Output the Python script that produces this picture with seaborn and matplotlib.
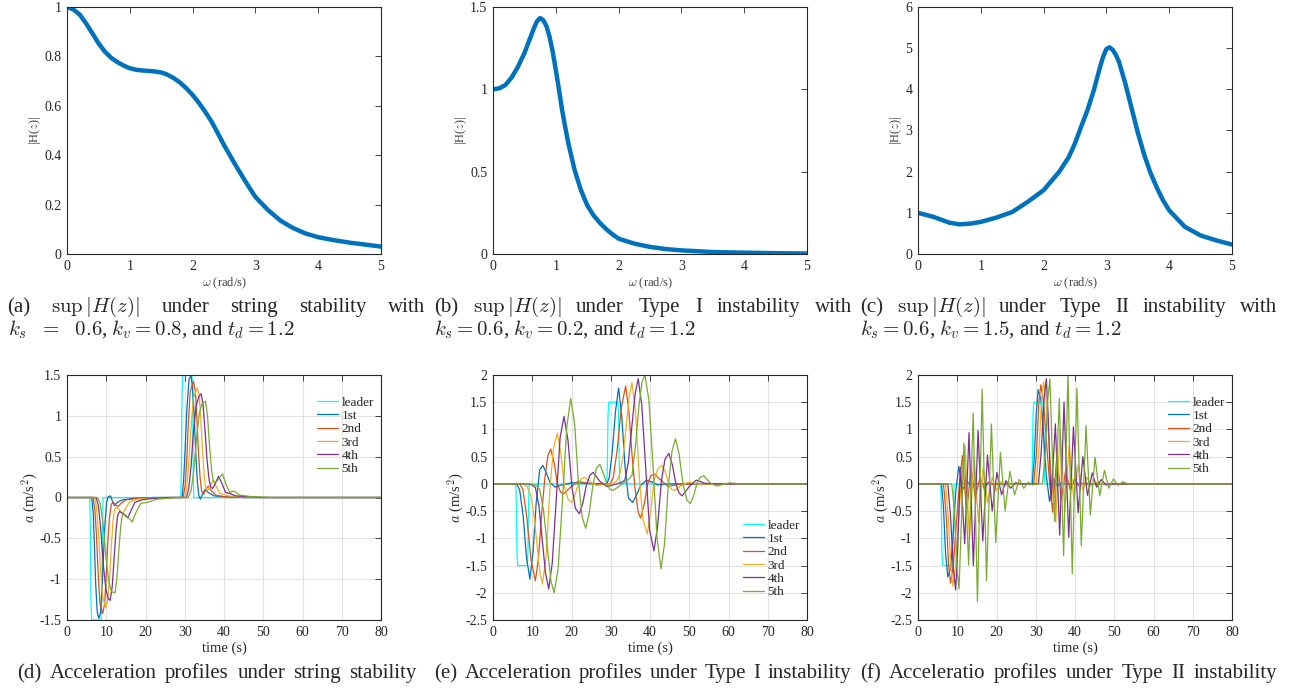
import matplotlib
matplotlib.use('Agg')
import matplotlib.pyplot as plt
from matplotlib.ticker import FuncFormatter
import seaborn as sns

# ---------------- data: |H(z)| curves ----------------
a_w = [0, 0.1, 0.2, 0.3, 0.4, 0.5, 0.6, 0.7, 0.8, 0.9, 1.0, 1.1, 1.2, 1.3, 1.4, 1.5, 1.6, 1.7, 1.8, 1.9, 2.0,
       2.1, 2.2, 2.3, 2.4, 2.5, 2.6, 2.7, 2.8, 2.9, 3.0, 3.2, 3.4, 3.6, 3.8, 4.0, 4.25, 4.5, 4.75, 5.0]
a_h = [1.0, 0.99, 0.97, 0.935, 0.895, 0.854, 0.82, 0.795, 0.777, 0.763, 0.752, 0.746, 0.743, 0.741, 0.739, 0.735,
       0.726, 0.712, 0.694, 0.671, 0.644, 0.612, 0.576, 0.537, 0.49, 0.441, 0.397, 0.353, 0.311, 0.27, 0.231, 0.178,
       0.135, 0.105, 0.083, 0.068, 0.056, 0.046, 0.038, 0.03]

b_w = [0, 0.1, 0.2, 0.3, 0.4, 0.5, 0.6, 0.65, 0.7, 0.75, 0.8, 0.85, 0.9, 0.95, 1.0, 1.05, 1.1, 1.15, 1.2, 1.3, 1.4,
       1.5, 1.6, 1.7, 1.8, 1.9, 2.0, 2.25, 2.5, 2.75, 3.0, 3.5, 4.0, 4.5, 5.0]
b_h = [1.0, 1.006, 1.027, 1.074, 1.139, 1.22, 1.32, 1.37, 1.413, 1.433, 1.42, 1.385, 1.32, 1.23, 1.118, 1.0, 0.875,
       0.77, 0.672, 0.509, 0.388, 0.296, 0.235, 0.19, 0.152, 0.12, 0.093, 0.063, 0.043, 0.03, 0.022, 0.012, 0.008,
       0.005, 0.003]

c_w = [0, 0.25, 0.5, 0.66, 0.85, 1.0, 1.25, 1.5, 1.75, 2.0, 2.25, 2.4, 2.5, 2.6, 2.7, 2.8, 2.9, 2.95, 3.0, 3.05, 3.1,
       3.15, 3.2, 3.3, 3.4, 3.5, 3.6, 3.7, 3.8, 3.9, 4.0, 4.25, 4.5, 4.75, 5.0]
c_h = [1.0, 0.9, 0.76, 0.72, 0.74, 0.78, 0.885, 1.02, 1.27, 1.55, 2.0, 2.35, 2.69, 3.1, 3.5, 3.98, 4.55, 4.8, 4.98,
       5.02, 4.96, 4.84, 4.67, 4.15, 3.55, 2.95, 2.42, 1.98, 1.62, 1.31, 1.06, 0.66, 0.45, 0.33, 0.23]

# ---------------- data: leader acceleration (same in d, e, f) ----------------
lead_t = [0, 5.8, 5.95, 6.1, 6.3, 8.7, 8.9, 9.05, 9.2, 29.0, 29.15, 29.3, 29.5, 31.8, 32.0, 32.15, 32.3, 80]
lead_a = [0, 0, -0.4, -1.25, -1.5, -1.5, -1.25, -0.4, 0, 0, 0.4, 1.25, 1.5, 1.5, 1.25, 0.4, 0, 0]

# ---------------- (d) string stable ----------------
d1_t = [0, 6.3, 6.7, 7.0, 7.3, 7.7, 8.1, 8.5, 8.9, 9.3, 9.7, 10.1, 10.5, 11.1, 11.6, 12.1, 12.8, 14.0, 17.0, 22.0,
        29.3, 29.7, 30.1, 30.5, 31.1, 31.6, 32.0, 32.4, 32.8, 33.2, 33.6, 34.0, 34.5, 35.2, 36.0, 37.5, 40.0, 45.0, 80]
d1_a = [0, 0, -0.2, -0.6, -1.05, -1.4, -1.48, -1.42, -1.15, -0.7, -0.3, -0.06, 0.01, 0.02, -0.05, -0.1, -0.06, -0.03, -0.01, 0,
        0, 0.2, 0.6, 1.05, 1.45, 1.49, 1.35, 1.0, 0.55, 0.2, 0.02, -0.02, 0.04, 0.1, 0.06, 0.02, 0.01, 0, 0]
d2_t = [0, 6.6, 7.1, 7.5, 7.9, 8.4, 9.1, 9.6, 10.0, 10.4, 10.8, 11.3, 11.8, 12.4, 13.0, 13.8, 15.0, 18.0, 24.0,
        29.6, 30.1, 30.5, 30.9, 31.4, 32.2, 32.7, 33.1, 33.5, 33.9, 34.3, 34.8, 35.4, 36.0, 36.8, 38.0, 40.0, 45.0, 80]
d2_a = [0, 0, -0.15, -0.45, -0.9, -1.3, -1.42, -1.3, -0.95, -0.55, -0.25, -0.08, -0.06, -0.09, -0.11, -0.07, -0.03, -0.01, 0,
        0, 0.15, 0.45, 0.9, 1.3, 1.42, 1.3, 0.95, 0.55, 0.25, 0.08, 0.04, 0.1, 0.14, 0.08, 0.03, 0.01, 0, 0]
d3_t = [0, 7.0, 7.5, 8.0, 8.5, 9.1, 9.9, 10.4, 10.9, 11.3, 11.7, 12.1, 12.6, 13.3, 14.2, 15.0, 16.0, 18.0, 21.0, 26.0,
        30.0, 30.5, 31.0, 31.6, 32.2, 33.2, 33.7, 34.1, 34.5, 34.9, 35.3, 35.7, 36.4, 37.2, 38.0, 39.0, 41.0, 44.0, 48.0, 80]
d3_a = [0, 0, -0.12, -0.4, -0.85, -1.22, -1.35, -1.25, -0.95, -0.6, -0.3, -0.15, -0.12, -0.15, -0.2, -0.13, -0.05, -0.02, -0.01, 0,
        0, 0.12, 0.4, 0.85, 1.22, 1.34, 1.25, 0.95, 0.6, 0.3, 0.13, 0.08, 0.13, 0.21, 0.14, 0.05, 0.02, 0.01, 0, 0]
d4_t = [0, 7.4, 8.0, 8.6, 9.2, 9.9, 10.5, 11.0, 11.5, 12.0, 12.5, 12.9, 13.4, 14.3, 15.5, 16.4, 17.3, 19.0, 22.0, 27.0,
        30.4, 31.0, 31.6, 32.2, 32.9, 33.6, 34.2, 34.7, 35.2, 35.7, 36.2, 36.6, 37.1, 37.8, 38.6, 39.5, 40.4, 41.4, 43.0, 46.0, 50.0, 80]
d4_a = [0, 0, -0.1, -0.38, -0.8, -1.12, -1.24, -1.26, -1.1, -0.75, -0.4, -0.22, -0.17, -0.2, -0.25, -0.15, -0.06, -0.03, -0.01, 0,
        0, 0.1, 0.38, 0.8, 1.12, 1.24, 1.27, 1.12, 0.8, 0.45, 0.22, 0.13, 0.11, 0.17, 0.26, 0.17, 0.06, 0.05, 0.02, 0.01, 0, 0]
d5_t = [0, 7.8, 8.5, 9.2, 9.9, 10.6, 11.3, 12.2, 12.7, 13.2, 13.7, 14.1, 14.6, 15.5, 16.6, 17.6, 18.8, 20.5, 23.0, 28.0,
        30.9, 31.6, 32.3, 33.0, 33.7, 34.4, 35.3, 35.8, 36.3, 36.8, 37.2, 37.7, 38.6, 39.6, 40.6, 41.5, 42.5, 44.0, 47.0, 52.0, 80]
d5_a = [0, 0, -0.08, -0.33, -0.72, -1.02, -1.15, -1.17, -1.0, -0.65, -0.35, -0.22, -0.2, -0.24, -0.3, -0.18, -0.07, -0.06, -0.02, 0,
        0, 0.08, 0.33, 0.72, 1.02, 1.15, 1.18, 1.0, 0.65, 0.35, 0.22, 0.18, 0.22, 0.29, 0.15, 0.06, 0.08, 0.03, 0.01, 0, 0]

# ---------------- (e) Type I instability ----------------
e1_t = [0, 6.0, 6.8, 7.7, 8.5, 9.4, 10.2, 11.0, 11.9, 12.7, 13.6, 14.5, 15.8, 17.5, 20.0, 24.0, 29.0, 29.6, 30.4, 31.2,
        32.0, 32.8, 33.6, 34.5, 35.6, 36.6, 37.6, 39.1, 40.6, 42.0, 45.0, 80]
e1_a = [0, 0, -0.11, -0.6, -1.33, -1.75, -1.25, -0.35, 0.26, 0.34, 0.2, 0.03, -0.06, -0.02, 0.02, 0.01, 0, 0.11, 0.6, 1.33,
        1.76, 1.25, 0.35, -0.26, -0.34, -0.2, -0.03, 0.07, 0.03, -0.02, 0, 0]
e2_t = [0, 6.8, 7.6, 8.6, 9.7, 10.8, 11.6, 12.4, 13.2, 14.0, 14.7, 15.6, 16.4, 17.2, 18.1, 19.5, 21.7, 24.0, 27.0, 29.8,
        30.6, 31.6, 32.7, 33.8, 34.6, 35.4, 36.2, 37.0, 37.6, 38.5, 39.4, 40.2, 41.2, 42.6, 44.6, 47.0, 50.0, 80]
e2_a = [0, 0, -0.1, -0.6, -1.4, -1.78, -1.35, -0.55, 0.1, 0.52, 0.64, 0.38, 0.0, -0.15, -0.18, -0.08, 0.05, 0.01, -0.01, 0,
        0.1, 0.6, 1.4, 1.8, 1.35, 0.55, -0.1, -0.52, -0.63, -0.38, 0.0, 0.15, 0.18, 0.08, -0.05, -0.01, 0, 0]
e3_t = [0, 7.5, 8.7, 9.6, 10.4, 11.2, 11.9, 12.6, 13.5, 14.5, 15.4, 16.4, 17.3, 18.2, 19.1, 20.0, 20.9, 21.8, 22.6, 23.4,
        24.9, 26.4, 28.0, 30.3, 31.5, 32.4, 33.2, 34.0, 34.7, 35.4, 36.3, 37.3, 38.2, 39.3, 40.1, 41.0, 42.0, 43.1, 44.0, 44.8,
        45.5, 46.3, 48.0, 49.7, 52.0, 80]
e3_a = [0, 0, -0.05, -0.2, -0.55, -1.1, -1.6, -1.84, -1.35, -0.1, 0.65, 0.93, 0.55, -0.05, -0.28, -0.34, -0.2, 0.02, 0.1, 0.12,
        0.03, -0.03, -0.01, 0, 0.05, 0.2, 0.55, 1.1, 1.6, 1.86, 1.35, 0.1, -0.65, -0.92, -0.55, 0.05, 0.28, 0.34, 0.2, -0.02,
        -0.1, -0.12, -0.03, 0.03, 0, 0]
e4_t = [0, 8.5, 10.0, 10.8, 11.7, 12.5, 13.4, 14.2, 15.1, 16.1, 17.1, 18.1, 19.1, 20.1, 21.0, 22.0, 22.9, 23.8, 24.7, 25.5,
        27.2, 29.0, 30.5, 32.0, 32.8, 33.6, 34.5, 35.3, 36.2, 37.0, 37.9, 38.9, 39.9, 41.0, 41.9, 42.9, 43.8, 44.8, 45.7, 46.6,
        47.4, 48.2, 50.0, 51.8, 54.0, 58.0, 80]
e4_a = [0, 0, -0.02, -0.07, -0.4, -1.0, -1.65, -1.93, -1.45, -0.3, 0.85, 1.24, 0.8, -0.05, -0.45, -0.55, -0.35, -0.02, 0.16, 0.21,
        0.05, -0.05, -0.02, 0.01, 0.03, 0.07, 0.4, 1.0, 1.65, 1.93, 1.45, 0.3, -0.85, -1.23, -0.8, 0.05, 0.45, 0.56, 0.35, 0.0,
        -0.17, -0.22, -0.05, 0.07, 0.01, 0, 0]
e5_t = [0, 9.5, 11.0, 11.9, 12.9, 13.9, 14.8, 15.6, 16.6, 17.7, 18.8, 19.8, 20.8, 21.7, 22.7, 23.6, 24.5, 25.4, 26.3, 27.2,
        28.1, 29.0, 29.8, 30.6, 32.0, 33.5, 34.5, 35.4, 36.3, 37.2, 38.0, 38.7, 39.7, 40.8, 41.8, 42.8, 43.7, 44.6, 45.6, 46.5,
        47.4, 48.4, 49.4, 50.3, 51.2, 52.0, 52.8, 53.7, 55.3, 57.0, 58.6, 60.3, 63.0, 80]
e5_a = [0, 0, -0.03, -0.1, -0.5, -1.2, -1.8, -2.0, -1.55, -0.3, 1.05, 1.57, 1.1, 0.1, -0.6, -0.82, -0.55, -0.05, 0.28, 0.36,
        0.2, 0.0, -0.1, -0.12, -0.05, 0.03, 0.08, 0.15, 0.7, 1.45, 1.88, 2.0, 1.55, 0.3, -1.0, -1.56, -1.1, -0.1, 0.6, 0.83,
        0.55, 0.0, -0.3, -0.36, -0.2, 0.02, 0.12, 0.15, 0.02, -0.04, -0.01, 0.02, 0, 0]

# ---------------- (f) Type II instability ----------------
f1_t = [0, 6.0, 6.5, 7.0, 7.6, 8.3, 9.0, 9.6, 10.4, 11.4, 12.4, 13.5, 15, 29.1, 29.6, 30.1, 30.6, 31.3, 32.0, 32.7,
        33.5, 34.5, 35.5, 36.5, 38, 80]
f1_a = [0, 0, -0.45, -1.25, -1.71, -1.55, -0.9, -0.15, 0.32, -0.1, 0.04, -0.01, 0, 0, 0.45, 1.25, 1.73, 1.55, 0.9, 0.15,
        -0.32, 0.1, -0.04, 0.01, 0, 0]
f2_t = [0, 6.5, 7.2, 7.8, 8.3, 9.0, 9.8, 10.5, 11.3, 12.4, 13.5, 14.6, 15.8, 16.9, 18.0, 19.2, 21.0, 29.5, 30.2, 30.8,
        31.3, 32.0, 32.8, 33.5, 34.3, 35.4, 36.5, 37.6, 38.8, 39.9, 41.0, 42.2, 44.0, 80]
f2_a = [0, 0, -0.6, -1.5, -1.82, -1.5, -0.7, -0.05, 0.52, -0.55, 0.3, -0.25, 0.12, -0.1, 0.04, -0.02, 0, 0, 0.6, 1.5,
        1.82, 1.5, 0.7, 0.05, -0.52, 0.55, -0.3, 0.25, -0.12, 0.1, -0.04, 0.02, 0, 0]
f3_t = [0, 7.0, 7.7, 8.4, 8.9, 9.6, 10.4, 11.2, 12.0, 13.1, 14.3, 15.4, 16.6, 17.7, 18.9, 20.0, 21.1, 22.3, 24.0, 30.1,
        30.8, 31.5, 32.0, 32.7, 33.5, 34.3, 35.1, 36.2, 37.4, 38.5, 39.7, 40.8, 42.0, 43.1, 44.2, 45.4, 47.0, 80]
f3_a = [0, 0, -0.6, -1.55, -1.88, -1.5, -0.6, 0.2, 0.7, -1.0, 0.5, -0.7, 0.3, -0.35, 0.12, -0.12, 0.04, -0.03, 0, 0,
        0.6, 1.55, 1.88, 1.5, 0.6, -0.2, -0.7, 1.0, -0.5, 0.7, -0.3, 0.35, -0.12, 0.12, -0.04, 0.03, 0, 0]
f4_t = [0, 7.6, 8.3, 9.0, 9.6, 10.1, 10.8, 11.9, 13.0, 14.1, 15.3, 16.5, 17.7, 18.9, 20.1, 21.3, 22.4, 23.6, 24.8, 26.0,
        30.7, 31.4, 32.1, 32.7, 33.2, 33.9, 35.0, 36.1, 37.2, 38.4, 39.6, 40.8, 42.0, 43.2, 44.4, 45.5, 46.7, 47.9, 49.0, 80]
f4_a = [0, 0, -0.6, -1.55, -1.95, -1.2, 0.3, -1.1, 0.94, -1.5, 0.98, -1.05, 0.53, -0.5, 0.21, -0.2, 0.06, -0.08, 0.02, 0,
        0, 0.6, 1.55, 1.93, 1.2, -0.3, 1.1, -0.94, 1.5, -0.98, 1.05, -0.53, 0.5, -0.21, 0.2, -0.06, 0.08, -0.02, 0, 0]
f5_t = [0, 8.6, 9.3, 9.9, 10.45, 11.1, 11.7, 12.9, 14.06, 15.15, 16.35, 17.45, 18.7, 19.8, 21.0, 22.2, 23.4, 24.6, 25.8, 26.95,
        28.1, 29.2, 30.5, 31.7, 32.4, 33.0, 33.6, 34.2, 34.8, 36.0, 37.1, 38.2, 39.3, 40.5, 41.6, 42.8, 43.9, 45.1, 46.3, 47.5,
        48.6, 49.8, 51.0, 52.1, 53.5, 80]
f5_a = [0, 0, -0.5, -1.5, -1.93, -0.6, 0.75, -1.49, 1.3, -2.16, 1.74, -1.78, 1.1, -1.08, 0.58, -0.5, 0.23, -0.2, 0.08, -0.08,
        0.03, -0.02, 0, 0, 0.5, 1.5, 1.93, 0.6, -0.69, 1.57, -1.32, 2.02, -1.65, 1.76, -1.14, 1.07, -0.57, 0.49, -0.22, 0.25,
        -0.08, 0.09, -0.03, 0.04, 0, 0]

series_labels = ['leader', '1st', '2nd', '3rd', '4th', '5th']
series_colors = ['#00FFFF', '#0072BD', '#D95319', '#EDB120', '#7E2F8E', '#77AC30']

top_yticks = [[0, 0.2, 0.4, 0.6, 0.8, 1], [0, 0.5, 1, 1.5], [0, 1, 2, 3, 4, 5, 6]]
top_ylims = [(0, 1), (0, 1.5), (0, 6)]

# ---------------- style ----------------
sns.set_style('white')
plt.rcParams['font.family'] = ['Liberation Serif', 'DejaVu Serif']
plt.rcParams['mathtext.fontset'] = 'cm'
plt.rcParams['axes.unicode_minus'] = False

W, H = 1293, 690
fig = plt.figure(figsize=(W / 100, H / 100), dpi=100)
fig.patch.set_facecolor('white')

def ax_at(l, t, r, b):
    return fig.add_axes([l / W, 1 - b / H, (r - l) / W, (b - t) / H])

fmt = FuncFormatter(lambda v, p: f'{v:g}')

def style(ax, grid):
    for s in ax.spines.values():
        s.set_color('#262626')
        s.set_linewidth(0.8)
    ax.tick_params(direction='in', top=True, right=True, length=4, width=0.6,
                   colors='#262626', labelsize=10, pad=4)
    ax.xaxis.set_major_formatter(fmt)
    ax.yaxis.set_major_formatter(fmt)
    if grid:
        ax.grid(True, color='#e2e2e2', lw=0.8)
        ax.set_axisbelow(True)
    else:
        ax.grid(False)

lefts = [67, 493, 918]
top_data = [(a_w, a_h), (b_w, b_h), (c_w, c_h)]
for i, (w, h) in enumerate(top_data):
    ax = ax_at(lefts[i], 7, lefts[i] + 314, 254)
    sns.lineplot(x=w, y=h, ax=ax, color='#0072BD', lw=3.2, estimator=None, sort=False)
    ax.set_xlim(0, 5)
    ax.set_ylim(*top_ylims[i])
    ax.set_xticks([0, 1, 2, 3, 4, 5])
    ax.set_yticks(top_yticks[i])
    style(ax, False)
    ax.set_xlabel(r'$\omega$ (rad/s)', fontsize=9, color='#404040', labelpad=2)
    ax.set_ylabel(r'|H($z$)|', fontsize=9, color='#404040', labelpad=1)

bottom_data = [
    [(lead_t, lead_a), (d1_t, d1_a), (d2_t, d2_a), (d3_t, d3_a), (d4_t, d4_a), (d5_t, d5_a)],
    [(lead_t, lead_a), (e1_t, e1_a), (e2_t, e2_a), (e3_t, e3_a), (e4_t, e4_a), (e5_t, e5_a)],
    [(lead_t, lead_a), (f1_t, f1_a), (f2_t, f2_a), (f3_t, f3_a), (f4_t, f4_a), (f5_t, f5_a)],
]
bottom_ylims = [(-1.5, 1.5), (-2.5, 2), (-2.5, 2)]
bottom_yticks = [[-1.5, -1, -0.5, 0, 0.5, 1, 1.5],
                 [-2.5, -2, -1.5, -1, -0.5, 0, 0.5, 1, 1.5, 2],
                 [-2.5, -2, -1.5, -1, -0.5, 0, 0.5, 1, 1.5, 2]]
legend_anchor = [(0.796, 0.912), (0.796, 0.41), (0.796, 0.912)]

for i, ser in enumerate(bottom_data):
    ax = ax_at(lefts[i], 375, lefts[i] + 314, 620)
    for (t, a), lab, col in zip(ser, series_labels, series_colors):
        sns.lineplot(x=t, y=a, ax=ax, color=col, lw=0.9, estimator=None, sort=False, label=lab)
    ax.set_xlim(0, 80)
    ax.set_ylim(*bottom_ylims[i])
    ax.set_xticks(range(0, 81, 10))
    ax.set_yticks(bottom_yticks[i])
    style(ax, True)
    ax.set_xlabel('time (s)', fontsize=10.5, color='#262626', labelpad=2)
    ax.set_ylabel(r'$a$ (m/s$^2$)', fontsize=10.5, color='#262626', labelpad=0)
    ax.legend(loc='upper left', bbox_to_anchor=legend_anchor[i], frameon=False, fontsize=9.5,
              handlelength=1.6, handletextpad=0.25, labelspacing=0.08, borderaxespad=0, borderpad=0)

# ---------------- captions ----------------
CAP = 15
renderer = fig.canvas.get_renderer()

def justify(words, x0, x1, yb):
    ts = [fig.text(0, 1 - yb / H, w, fontsize=CAP, va='baseline', ha='left') for w in words]
    ws = [t.get_window_extent(renderer).width for t in ts]
    gap = (x1 - x0 - sum(ws)) / (len(ws) - 1)
    x = x0
    for t, w in zip(ts, ws):
        t.set_x(x / W)
        x += w + gap

justify(['(a)', r'$\sup\,|H(z)|$', 'under', 'string', 'stability', 'with'], 7, 425, 312)
justify(['(b)', r'$\sup\,|H(z)|$', 'under', 'Type', 'I', 'instability', 'with'], 434, 852, 312)
justify(['(c)', r'$\sup\,|H(z)|$', 'under', 'Type', 'II', 'instability', 'with'], 860, 1277, 312)

fig.text(8 / W, 1 - 335 / H, r'$k_s\ \ =\ \ 0.6$, $k_v=0.8$, and $t_d=1.2$', fontsize=CAP, va='baseline')
fig.text(434 / W, 1 - 335 / H, r'$k_s=0.6$, $k_v=0.2$, and $t_d=1.2$', fontsize=CAP, va='baseline')
fig.text(860 / W, 1 - 335 / H, r'$k_s=0.6$, $k_v=1.5$, and $t_d=1.2$', fontsize=CAP, va='baseline')

justify(['(d)', 'Acceleration', 'profiles', 'under', 'string', 'stability'], 17, 417, 678)
justify(['(e)', 'Acceleration', 'profiles', 'under', 'Type', 'I', 'instability'], 434, 851, 678)
justify(['(f)', 'Acceleratio', 'profiles', 'under', 'Type', 'II', 'instability'], 860, 1277, 678)

fig.savefig('out.png', dpi=100)
